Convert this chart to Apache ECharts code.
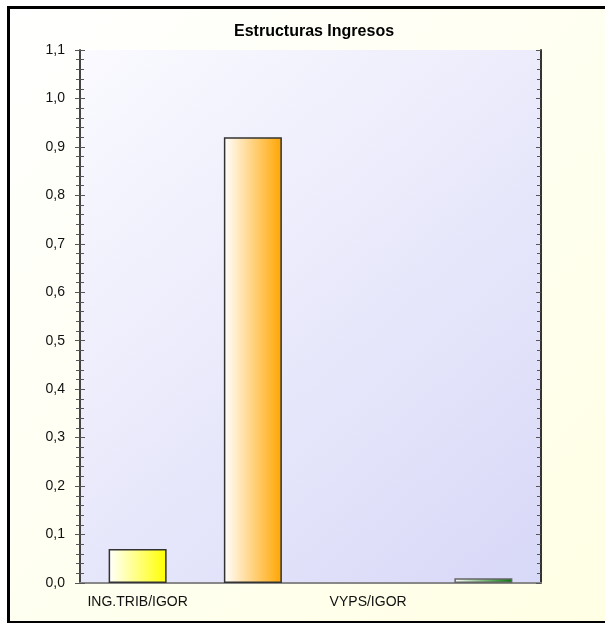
<!DOCTYPE html>
<html>
<head>
<meta charset="utf-8">
<script src="https://cdn.jsdelivr.net/npm/echarts@6/dist/echarts.min.js"></script>
<style>
html,body{margin:0;padding:0;background:#fff;overflow:hidden;}
#frame{position:absolute;left:7px;top:6px;width:620px;height:612px;border-left:3px solid #000;border-top:3px solid #000;border-bottom:2px solid #000;background:linear-gradient(135deg,#ffffff 0%,#fffff2 45%,#ffffe4 100%);}
#chart{position:absolute;left:0;top:0;width:605px;height:623px;}
</style>
</head>
<body>
<div id="frame"></div>
<div id="chart"></div>
<script>
const titleText = 'Estructuras Ingresos';
const categories = ['ING.TRIB/IGOR', '', 'VYPS/IGOR', ''];
const values = [0.07, 0.92, 0, 0.01];
const yMin = 0, yMax = 1.1, yStep = 0.1;

const barColors = ['#ffff00', '#ffa500', '#ffa500', '#007a00'];
const barBorders = ['#333333', '#333333', '#333333', '#666666'];

const chart = echarts.init(document.getElementById('chart'), null, {renderer: 'canvas'});
const fmt = v => v.toFixed(1).replace('.', ',');
const grad = c => new echarts.graphic.LinearGradient(0, 0, 1, 0, [{offset: 0, color: '#ffffff'}, {offset: 1, color: c}]);

const tickStyle = {color: '#555', width: 1};
const option = {
  animation: false,
  title: {text: titleText, left: 229, top: 19, textStyle: {fontFamily: 'Liberation Sans, Arial', fontWeight: 'bold', fontSize: 16, color: '#000'}},
  grid: {left: 80, right: 64, top: 50, bottom: 40, show: true, borderWidth: 0,
    backgroundColor: new echarts.graphic.LinearGradient(0, 0, 1, 1, [{offset: 0, color: '#fafaff'}, {offset: 1, color: '#d8d8f8'}])},
  xAxis: [
    {type: 'category', data: categories, position: 'bottom', boundaryGap: true,
      axisLine: {lineStyle: {color: '#333', width: 2}},
      axisTick: {alignWithLabel: true, interval: 0, length: 5, lineStyle: tickStyle},
      axisLabel: {interval: 1, margin: 12, fontFamily: 'Liberation Sans, Arial', fontSize: 14, color: '#111'}},
    {type: 'category', data: categories, position: 'bottom', boundaryGap: true,
      axisLine: {show: false},
      axisTick: {inside: true, alignWithLabel: true, interval: 0, length: 4, lineStyle: tickStyle},
      axisLabel: {show: false}},
    {type: 'category', data: categories, position: 'top', boundaryGap: true,
      axisLine: {lineStyle: {color: '#888', width: 2}},
      axisTick: {inside: true, alignWithLabel: true, interval: 0, length: 5, lineStyle: tickStyle},
      axisLabel: {show: false}}
  ],
  yAxis: [
    {type: 'value', min: yMin, max: yMax, interval: yStep, position: 'left',
      axisLine: {show: true, lineStyle: {color: '#444', width: 2}},
      axisTick: {show: true, length: 5, lineStyle: tickStyle},
      minorTick: {show: true, splitNumber: 5, length: 4, lineStyle: tickStyle},
      splitLine: {show: false},
      axisLabel: {formatter: fmt, margin: 15, fontFamily: 'Liberation Sans, Arial', fontSize: 14, color: '#111'}},
    {type: 'value', min: yMin, max: yMax, interval: yStep, position: 'left',
      axisLine: {show: false},
      axisTick: {show: true, inside: true, length: 5, lineStyle: tickStyle},
      minorTick: {show: true, splitNumber: 5, length: 4, lineStyle: tickStyle},
      splitLine: {show: false}, axisLabel: {show: false}},
    {type: 'value', min: yMin, max: yMax, interval: yStep, position: 'right',
      axisLine: {show: true, lineStyle: {color: '#333', width: 2}},
      axisTick: {show: true, inside: true, length: 5, lineStyle: tickStyle},
      minorTick: {show: true, splitNumber: 5, length: 4, lineStyle: tickStyle},
      splitLine: {show: false}, axisLabel: {show: false}}
  ],
  series: [{
    type: 'bar', xAxisIndex: 0, yAxisIndex: 0, barWidth: 58, z: 1,
    data: values.map((v, i) => ({value: v, itemStyle: {color: grad(barColors[i]), borderColor: barBorders[i], borderWidth: v > 0 ? 1.5 : 0}}))
  }]
};
chart.setOption(option);
</script>
</body>
</html>
